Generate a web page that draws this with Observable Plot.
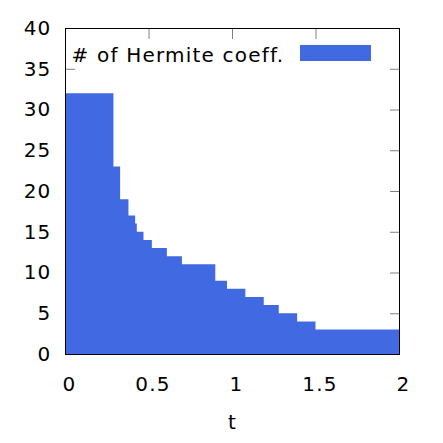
<!DOCTYPE html>
<html><head><meta charset="utf-8">
<script src="https://cdn.jsdelivr.net/npm/d3@7"></script>
<script src="https://cdn.jsdelivr.net/npm/@observablehq/plot@0.6"></script>
<style>body{margin:0;background:#fff;} svg{display:block;}</style>
</head><body><div id="chart"></div>
<script>
const tStart = [0, 0.29, 0.33, 0.38, 0.42, 0.43, 0.47, 0.52, 0.61, 0.70, 0.90, 0.97, 1.08, 1.19, 1.28, 1.39, 1.50];
const tEnd   = [0.29, 0.33, 0.38, 0.42, 0.43, 0.47, 0.52, 0.61, 0.70, 0.90, 0.97, 1.08, 1.19, 1.28, 1.39, 1.50, 2];
const coeffs = [32, 23, 19, 17, 16, 15, 14, 13, 12, 11, 9, 8, 7, 6, 5, 4, 3];
const xTicks = [0, 0.5, 1, 1.5, 2];
const yTicks = [0, 5, 10, 15, 20, 25, 30, 35, 40];
const seriesName = "# of Hermite coeff.";
const xLabel = "t";

// step-after points: each segment start, plus final end point
const data = coeffs.map((v, i) => ({t: tStart[i], y: v}));
data.push({t: tEnd[tEnd.length - 1], y: coeffs[coeffs.length - 1]});
const blue = "#4169E1";
const font = "DejaVu Sans, Verdana, sans-serif";

const plot = Plot.plot({
  width: 443, height: 443,
  marginLeft: 65, marginRight: 44, marginTop: 28, marginBottom: 89,
  style: {fontFamily: font, fontSize: "20px", color: "#000", background: "#fff", letterSpacing: "1.2px"},
  x: {domain: [0, 2]},
  y: {domain: [0, 40]},
  marks: [
    Plot.axisY(yTicks, {anchor: "left", tickSize: -10, fill: "none", stroke: "#808080"}),
    Plot.axisY(yTicks, {anchor: "right", tickSize: -10, fill: "none", stroke: "#808080"}),
    Plot.axisX(xTicks, {anchor: "bottom", tickSize: -10, fill: "none", stroke: "#808080"}),
    Plot.axisX(xTicks, {anchor: "top", tickSize: -10, fill: "none", stroke: "#808080"}),
    Plot.areaY(data, {x: "t", y: "y", curve: "step-after", fill: blue}),
    Plot.axisY(yTicks, {anchor: "left", tickSize: 0, tickPadding: 14, fontSize: 20, label: null, tickFormat: d => String(d)}),
    Plot.axisX(xTicks, {anchor: "bottom", tickSize: 0, tickPadding: 22, dx: 4, fontSize: 20, label: null, tickFormat: d => String(d)}),
    Plot.text([xLabel], {frameAnchor: "bottom", dy: 74, fontSize: 20, text: d => d}),
    Plot.text([seriesName], {frameAnchor: "top-left", dx: 6, dy: 19, textAnchor: "start", fontSize: 20, text: d => d}),
    Plot.frame({stroke: "#000", strokeWidth: 1})
  ]
});
document.getElementById("chart").appendChild(plot);
// legend swatch
d3.select(plot).append("rect")
  .attr("x", 300).attr("y", 45).attr("width", 71).attr("height", 16)
  .attr("fill", blue);
</script>
</body></html>
